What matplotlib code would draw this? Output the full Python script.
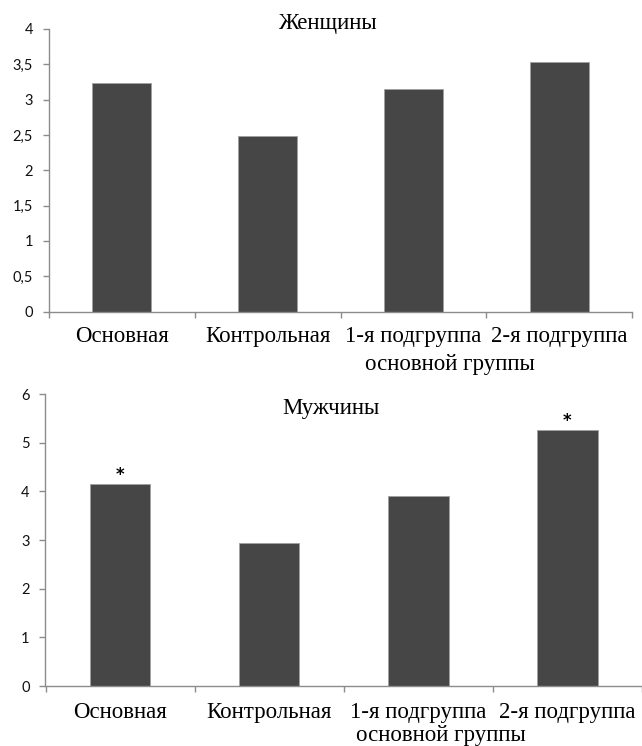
import matplotlib
matplotlib.use("Agg")
import matplotlib.pyplot as plt
import matplotlib.transforms as mtransforms

categories = ["Основная", "Контрольная", "1-я подгруппа", "2-я подгруппа"]
second_line = "основной группы"
women = [3.24, 2.48, 3.15, 3.53]
men = [4.15, 2.94, 3.91, 5.27]
men_stars = [True, False, False, True]
women_ticks = [0, 0.5, 1, 1.5, 2, 2.5, 3, 3.5, 4]
women_ticklabels = ["0", "0,5", "1", "1,5", "2", "2,5", "3", "3,5", "4"]
men_ticks = [0, 1, 2, 3, 4, 5, 6]
men_ticklabels = ["0", "1", "2", "3", "4", "5", "6"]

SERIF = ["Liberation Serif", "DejaVu Serif"]
SANS = ["Lato", "DejaVu Sans"]
BAR = "#464646"
AXC = "#8c8c8c"

fig = plt.figure(figsize=(6.42, 7.46), dpi=100)
W, H = 642, 746

def make_ax(left, right, top, bottom):
    return fig.add_axes([left / W, 1 - bottom / H, (right - left) / W, (bottom - top) / H])

ax1 = make_ax(49, 632, 29, 311.5)
ax2 = make_ax(45.5, 642, 394, 686)

def style(ax, values, ticks, ticklabels, title, title_y, lab1_off, lab2_off, lab2_x, stars=None):
    x = list(range(len(values)))
    bars = ax.bar(x, values, width=0.405, color=BAR, edgecolor="#a0a0a0", linewidth=0.6, zorder=2)
    ax.set_xlim(-0.5, len(values) - 0.5)
    ax.set_ylim(ticks[0], ticks[-1])
    ax.set_yticks(ticks)
    ax.set_yticklabels(ticklabels, fontfamily=SANS, fontsize=10.5, color="#111111")
    for s in ["top", "right"]:
        ax.spines[s].set_visible(False)
    for s in ["left", "bottom"]:
        ax.spines[s].set_color(AXC)
        ax.spines[s].set_linewidth(1.0)
    ax.tick_params(axis="y", length=4, width=1.0, color=AXC, pad=7.5)
    # category boundary ticks
    ax.set_xticks([i - 0.5 for i in range(len(values) + 1)])
    ax.set_xticklabels([])
    ax.tick_params(axis="x", length=4, width=1.0, color=AXC)
    trans = mtransforms.blended_transform_factory(ax.transData, ax.transAxes)
    for i, lab in enumerate(categories):
        ax.annotate(lab, xy=(i, 0), xycoords=trans, xytext=(0, -lab1_off),
                    textcoords="offset points", ha="center", va="center",
                    fontfamily=SERIF, fontsize=16.5)
    ax.annotate(second_line, xy=(lab2_x, 0), xycoords=trans, xytext=(0, -lab2_off),
                textcoords="offset points", ha="center", va="center",
                fontfamily=SERIF, fontsize=16.5)
    ax.text(0.478, title_y, title, transform=ax.transAxes, ha="center", va="center",
            fontfamily=SERIF, fontsize=16.5)
    if stars:
        for b, st in zip(bars, stars):
            if st:
                ax.annotate("*", xy=(b.get_x() + b.get_width() / 2, b.get_height()),
                            xytext=(0, 0), textcoords="offset points",
                            ha="center", va="bottom", fontsize=12, fontweight="bold",
                            fontfamily=["DejaVu Sans"])

style(ax1, women, women_ticks, women_ticklabels, "Женщины", 1.018, 18, 38, 2.25)
style(ax2, men, men_ticks, men_ticklabels, "Мужчины", 0.95, 19, 35.5, 2.15, men_stars)

fig.savefig("out.png", dpi=100)
